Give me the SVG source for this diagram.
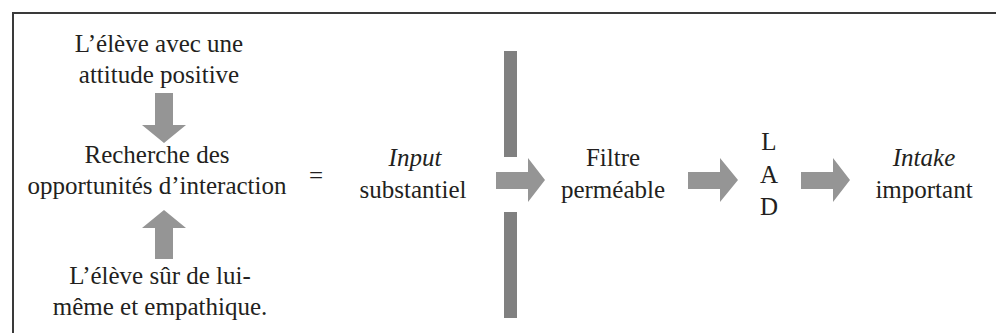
<svg xmlns="http://www.w3.org/2000/svg" width="996" height="333" viewBox="0 0 996 333">
<style>
.t text{font-size:25px;fill:#231f20;text-anchor:middle}
.it{font-style:italic}
.arrow{fill:#959595}
.bar{fill:#808080}
.frame{stroke:#3a3a3a;stroke-width:2;fill:none}
</style>
<rect width="996" height="333" fill="#ffffff"/>
<path class="frame" d="M13,333 V13 H996"/>
<g class="t" font-family="'Liberation Serif', 'Times New Roman', 'DejaVu Serif', serif">
<g id="n-attitude">
<text x="159" y="52">L’élève avec une</text>
<text x="159" y="83">attitude positive</text>
</g>
<g id="n-recherche">
<text x="157" y="163">Recherche des</text>
<text x="157" y="194">opportunités d’interaction</text>
</g>
<g id="n-sur">
<text x="160" y="284">L’élève sûr de lui-</text>
<text x="160" y="315">même et empathique.</text>
</g>
<g id="n-equal">
<text x="316" y="184">=</text>
</g>
<g id="n-input">
<text class="it" x="415" y="166">Input</text>
<text x="413" y="198">substantiel</text>
</g>
<g id="n-filtre">
<rect class="bar" x="504" y="51" width="13" height="106"/>
<rect class="bar" x="504" y="212" width="13" height="106"/>
<text x="613" y="166">Filtre</text>
<text x="613" y="198">perméable</text>
</g>
<g id="n-lad">
<text x="769" y="150">L</text>
<text x="769" y="183">A</text>
<text x="769" y="215">D</text>
</g>
<g id="n-intake">
<text class="it" x="924" y="166">Intake</text>
<text x="924" y="198">important</text>
</g>
</g>
<g id="connectors">
<polygon class="arrow" points="155,93 173,93 173,125 186,125 164,143 142,125 155,125"/>
<polygon class="arrow" points="155,259 173,259 173,228 186,228 164,210 142,228 155,228"/>
<polygon class="arrow" points="496,172 528,172 528,158 545,180 528,202 528,189 496,189"/>
<polygon class="arrow" points="688,172 720,172 720,158 738,180 720,202 720,189 688,189"/>
<polygon class="arrow" points="801,172 833,172 833,158 850,180 833,202 833,189 801,189"/>
</g>
</svg>
